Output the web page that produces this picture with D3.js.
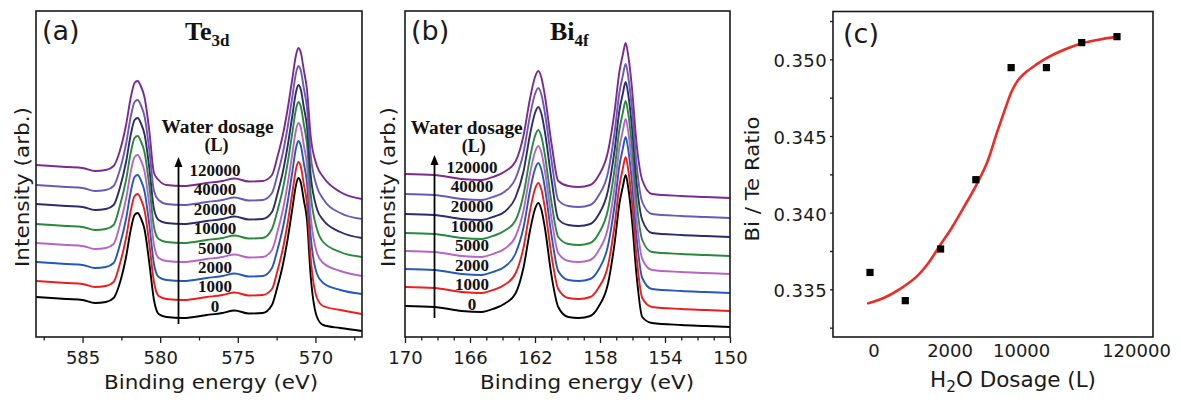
<!DOCTYPE html>
<html><head><meta charset="utf-8">
<script src="https://cdn.jsdelivr.net/npm/d3@7"></script>
<style>body{margin:0;background:#fff} svg{display:block}</style>
</head><body><svg id="chart" width="1181" height="403"></svg>
<script>
// ---------------- data ----------------
const dosageLabels = ["0","1000","2000","5000","10000","20000","40000","120000"];
const seriesColors = ["#000000","#ee1d1d","#2558b8","#b566c2","#28883b","#2c2c6c","#6a59b6","#7b2a8e"];

// Te 3d spectra (binding energy, eV) — intensity in arbitrary units
const teEnergy = [588,587,586,585,584.2,583.5,583.0,582.6,582.2,581.9,581.65,581.45,581.25,581.0,580.7,580.4,580.1,579.6,578.5,577,576,575.2,574.3,573.4,572.8,572.45,572.1,571.8,571.5,571.25,571.1,570.95,570.75,570.55,570.3,569.9,569.5,568.4,567];
const te0 = [40,39,38,37,34,35,39,54,80,107,122,124,119,107,74,37,23,20,19,22,24,26.5,23.5,24,32,50,72,97,127,152,159,155,137,118,60,20,12,9,6];
const te1 = [56,55,54,53,50,51,55,73,99,126,141,143,138,126,93,55,41,38,37,40,42,44.5,41.5,42,48,66,88,113,143,168,175,171,153,134,78,39,31,27,23];
const te2 = [75,74,73,72,69,70,74,92,118,145,160,162,157,145,112,73,60,57,56,59,61,63.5,60.5,61,69,87,109,134,164,189,196,192,174,155,100,63,54,47,43];
const te3 = [94,93,92,91,88,89,93,112,138,165,180,182,177,165,132,92,79,76,75,78,80,82.5,79.5,80,87,105,127,152,182,207,214,210,192,173,120,84,74,66,61];
const te4 = [113,112,111,110,107,108,112,131,157,184,199,201,196,184,151,110,98,95,94,97,99,101.5,98.5,99,108,126,148,173,203,228,235,231,213,194,142,108,95,85,80];
const te5 = [133,132,131,130,127,128,132,149,175,202,217,219,214,202,169,128,117,114,113,116,118,120.5,117.5,118,125,143,165,190,220,245,252,248,230,211,161,128,117,105,99];
const te6 = [152,151,150,149,146,147,151,167,193,220,235,237,232,220,187,146,137,133,132,135,137,139.5,136.5,137,144,162,184,209,239,264,271,267,249,230,181,150,138,124,118];
const te7 = [172,171,170,169,166,167,171,186,212,239,254,256,251,239,206,164,157,152,151,154,156,158.5,155.5,156,162,180,202,227,257,282,289,285,267,248,200,171,160,145,138];
const teSeries = [te0,te1,te2,te3,te4,te5,te6,te7];

// Bi 4f spectra
const biEnergy = [170,168.2,166.5,165.3,164.5,163.85,163.2,162.7,162.3,162.0,161.8,161.6,161.4,160.97,160.57,159.95,159.3,158.6,158.1,157.5,157.1,156.8,156.6,156.42,156.25,156.05,155.74,155.4,154.8,153,151.5,150];
const bi0 = [31,30,26,25,28.5,33.5,43.5,70,107,128,134,127,110,60,30,20,19,21,30,54,94,134,150,162,148,120,60,20,14,12,11,10];
const bi1 = [50,49,45,44,47.5,52.5,63.5,90,127,148,154,147,130,80,48,39,38,40,49,72,112,152,168,180,166,138,78,39,30,28,27,26];
const bi2 = [68,67,63,62,65.5,70.5,83.5,110,147,168,174,167,150,100,66,57,56,58,67,92,132,172,188,200,186,158,98,59,48,46,45,44];
const bi3 = [86,85,81,80,83.5,88.5,100.5,127,164,185,191,184,167,117,84,76,75,77,86,110,150,190,206,218,204,176,116,78,67,65,64,63];
const bi4 = [104,103,99,98,101.5,106.5,116.5,143,180,201,207,200,183,133,100,93,92,94,103,128,168,208,224,236,222,194,134,97,85,83,82,81];
const bi5 = [123,122,118,117,120.5,125.5,139.5,166,203,224,230,223,206,156,118,112,111,113,122,147,187,227,243,255,241,213,153,117,104,102,101,100];
const bi6 = [143,142,138,137,140.5,145.5,158.5,185,222,243,249,242,225,175,137,131,130,132,141,165,205,245,261,273,259,231,171,135,123,121,120,119];
const bi7 = [163,162,158,157,160.5,165.5,175.5,202,239,260,266,259,242,192,156,151,150,152,161,186,226,266,282,294,280,252,192,157,143,141,140,139];
const biSeries = [bi0,bi1,bi2,bi3,bi4,bi5,bi6,bi7];

// Bi/Te ratio vs H2O dosage (categorical position index)
const ratioIndex = [0,1,2,3,4,5,6,7];
const ratioValues = [0.3361,0.33426,0.33763,0.34215,0.34946,0.34946,0.35109,0.35148];
const fitIndex = [-0.05,0.4,0.8,1.32,1.65,1.99,2.31,2.64,2.99,3.31,3.59,3.82,4.01,4.20,4.44,4.72,4.99,5.48,5.99,6.52,6.89];
const fitValues = [0.33409,0.33445,0.33495,0.33583,0.3367,0.33789,0.33898,0.34028,0.3417,0.34322,0.34517,0.3467,0.34789,0.34865,0.3492,0.34967,0.35007,0.35061,0.35104,0.3513,0.35143];
const ratioTickIndex = [0,2,4,7];
const ratioTickLabels = ["0","2000","10000","120000"];

const teMajorTicks = [585,580,575,570];
const teMinorTicks = [587.5,582.5,577.5,572.5,567.5];
const biMajorTicks = [170,166,162,158,154,150];
const biMinorTicks = [169,168,167,165,164,163,161,160,159,157,156,155,153,152,151];
const ratioMajorTicks = [0.335,0.340,0.345,0.350];
const ratioMinorTicks = [0.3325,0.3375,0.3425,0.3475,0.3525];

// ---------------- drawing ----------------
const SANS = "'DejaVu Sans', Verdana, sans-serif";
const SERIF = "'Liberation Serif', 'Times New Roman', serif";
const svg = d3.select("#chart");
const FT = 11, FB = 337;

function frame(x0, x1, y0, y1) {
  svg.append("rect").attr("x", x0).attr("y", y0).attr("width", x1 - x0).attr("height", y1 - y0)
    .attr("fill", "none").attr("stroke", "#1a1a1a").attr("stroke-width", 1.6);
}

function bottomTicks(x, majors, minors, labelY) {
  const g = svg.append("g").attr("transform", `translate(0,${FB})`);
  g.call(d3.axisBottom(x).tickValues(minors).tickSize(3.5).tickSizeOuter(0).tickFormat(""));
  const g2 = svg.append("g").attr("transform", `translate(0,${FB})`);
  g2.call(d3.axisBottom(x).tickValues(majors).tickSize(6).tickSizeOuter(0).tickPadding(labelY));
  [g, g2].forEach(a => {
    a.select(".domain").remove();
    a.selectAll("line").attr("stroke", "#1a1a1a").attr("stroke-width", 1.3);
  });
  g2.selectAll("text").attr("font-family", SANS).attr("font-size", 18).attr("fill", "#1a1a1a");
}

function spectrumPanel(opt) {
  const x = d3.scaleLinear().domain(opt.xDomain).range([opt.x0, opt.x1]);
  const y = d3.scaleLinear().domain([0, 326]).range([FB, FT]);
  const line = d3.line().x((d, i) => x(opt.energy[i])).y(d => y(d)).curve(d3.curveMonotoneX);
  const clip = "clip" + opt.id;
  svg.append("clipPath").attr("id", clip).append("rect")
    .attr("x", opt.x0).attr("y", FT).attr("width", opt.x1 - opt.x0).attr("height", FB - FT);
  svg.append("g").attr("clip-path", `url(#${clip})`)
    .selectAll("path").data(opt.series).join("path")
    .attr("d", d => line(d)).attr("fill", "none")
    .attr("stroke", (d, i) => seriesColors[i]).attr("stroke-width", 1.9)
    .attr("stroke-linejoin", "round");
  frame(opt.x0, opt.x1, FT, FB);
  bottomTicks(x, opt.majors, opt.minors, 8);

  svg.append("text").attr("x", opt.xTitleX).attr("y", 389).attr("text-anchor", "middle")
    .attr("font-family", SANS).attr("font-size", 20).attr("fill", "#1a1a1a")
    .attr("textLength", 214).attr("lengthAdjust", "spacingAndGlyphs")
    .text("Binding energy (eV)");
  svg.append("text").attr("transform", `translate(${opt.yTitleX},187) rotate(-90)`)
    .attr("text-anchor", "middle").attr("font-family", SANS).attr("font-size", 20).attr("fill", "#1a1a1a")
    .attr("textLength", 160).attr("lengthAdjust", "spacingAndGlyphs")
    .text("Intensity (arb.)");
  svg.append("text").attr("x", opt.x0 + 6).attr("y", 40).attr("font-family", SANS)
    .attr("font-size", 27).attr("fill", "#1a1a1a").text(opt.letter);
  const t = svg.append("text").attr("x", opt.titleX).attr("y", 40)
    .attr("font-family", SERIF).attr("font-weight", "bold").attr("font-size", 26).attr("fill", "#111");
  t.append("tspan").text(opt.title[0]);
  t.append("tspan").attr("font-size", 17).attr("dy", 6).text(opt.title[1]);

  svg.append("text").attr("x", opt.legendX).attr("y", opt.wdY).attr("text-anchor", "middle")
    .attr("font-family", SERIF).attr("font-weight", "bold").attr("font-size", 18).attr("fill", "#111")
    .attr("textLength", 112).attr("lengthAdjust", "spacingAndGlyphs").text("Water dosage");
  svg.append("text").attr("x", opt.legendX + opt.lOff).attr("y", opt.wdY + 18).attr("text-anchor", "middle")
    .attr("font-family", SERIF).attr("font-weight", "bold").attr("font-size", 18).attr("fill", "#111").text("(L)");
  svg.append("g").selectAll("text").data(dosageLabels).join("text")
    .attr("x", opt.numX).attr("y", (d, i) => opt.numY0 - i * opt.numStep)
    .attr("text-anchor", "middle").attr("font-family", SERIF).attr("font-weight", "bold")
    .attr("font-size", 17).attr("fill", "#111").text(d => d);
  svg.append("line").attr("x1", opt.arrowX).attr("x2", opt.arrowX).attr("y1", opt.arrowBottom).attr("y2", opt.arrowTop + 7)
    .attr("stroke", "#000").attr("stroke-width", 1.8);
  svg.append("path").attr("d", `M${opt.arrowX},${opt.arrowTop} L${opt.arrowX - 4},${opt.arrowTop + 10} L${opt.arrowX + 4},${opt.arrowTop + 10} Z`)
    .attr("fill", "#000");
}

spectrumPanel({
  id: "a", energy: teEnergy, series: teSeries, xDomain: [588, 567], x0: 36, x1: 362,
  majors: teMajorTicks, minors: teMinorTicks, xTitleX: 211, yTitleX: 28.5, letter: "(a)",
  titleX: 185, title: ["Te", "3d"], legendX: 217.5, lOff: -1, wdY: 133,
  numX: 215, numY0: 311.8, numStep: 19.4, arrowX: 178.5, arrowTop: 157, arrowBottom: 324
});
spectrumPanel({
  id: "b", energy: biEnergy, series: biSeries, xDomain: [170, 150], x0: 405, x1: 730,
  majors: biMajorTicks, minors: biMinorTicks, xTitleX: 587, yTitleX: 395, letter: "(b)",
  titleX: 550, title: ["Bi", "4f"], legendX: 466.7, lOff: 7, wdY: 133.5,
  numX: 472, numY0: 310, numStep: 19.6, arrowX: 434.5, arrowTop: 155, arrowBottom: 318
});

// ---------------- panel (c) ----------------
const cx0 = 833, cx1 = 1153, cy0 = 11.5;
const xr = d3.scaleLinear().domain([0, 7]).range([870, 1117]);
const yr = d3.scaleLinear().domain([0.33189, 0.35312]).range([FB, cy0]);

const fitLine = d3.line().x((d, i) => xr(fitIndex[i])).y(d => yr(d)).curve(d3.curveCatmullRom.alpha(0.5));
svg.append("path").attr("d", fitLine(fitValues)).attr("fill", "none")
  .attr("stroke", "#ee2a24").attr("stroke-width", 2.6).attr("stroke-linecap", "round");

svg.append("g").selectAll("rect").data(ratioValues).join("rect")
  .attr("x", (d, i) => xr(ratioIndex[i]) - 3.6).attr("y", d => yr(d) - 3.6)
  .attr("width", 7.2).attr("height", 7.2).attr("fill", "#000");

svg.append("rect").attr("x", cx0).attr("y", cy0).attr("width", cx1 - cx0).attr("height", FB - cy0)
  .attr("fill", "none").attr("stroke", "#1a1a1a").attr("stroke-width", 1.6);

const yMinor = svg.append("g").attr("transform", `translate(${cx0},0)`)
  .call(d3.axisLeft(yr).tickValues(ratioMinorTicks).tickSize(3).tickFormat(""));
const yMajor = svg.append("g").attr("transform", `translate(${cx0},0)`)
  .call(d3.axisLeft(yr).tickValues(ratioMajorTicks).tickSize(3).tickPadding(3).tickFormat(d3.format(".3f")));
[yMinor, yMajor].forEach(a => {
  a.select(".domain").remove();
  a.selectAll("line").attr("stroke", "#1a1a1a").attr("stroke-width", 1.3);
});
yMajor.selectAll("text").attr("font-family", SANS).attr("font-size", 18).attr("fill", "#1a1a1a")
  .attr("dy", "0.42em").attr("letter-spacing", 0.4);

const xLabelNudge = [4, 9.5, 10.5, 19.5];
svg.append("g").selectAll("text").data(ratioTickLabels).join("text")
  .attr("x", (d, i) => xr(ratioTickIndex[i]) + xLabelNudge[i]).attr("y", 357)
  .attr("text-anchor", "middle").attr("font-family", SANS).attr("font-size", 18).attr("fill", "#1a1a1a")
  .text(d => d);

const xt = svg.append("text").attr("x", 1013).attr("y", 387).attr("text-anchor", "middle")
  .attr("font-family", SANS).attr("font-size", 21).attr("fill", "#1a1a1a")
  .attr("textLength", 166).attr("lengthAdjust", "spacingAndGlyphs");
xt.append("tspan").text("H");
xt.append("tspan").attr("font-size", 15).attr("dy", 5).text("2");
xt.append("tspan").attr("dy", -5).text("O Dosage (L)");

svg.append("text").attr("transform", "translate(759,179) rotate(-90)").attr("text-anchor", "middle")
  .attr("font-family", SANS).attr("font-size", 20).attr("fill", "#1a1a1a")
  .attr("textLength", 125).attr("lengthAdjust", "spacingAndGlyphs").text("Bi / Te Ratio");

svg.append("text").attr("x", 843).attr("y", 43).attr("font-family", SANS)
  .attr("font-size", 27).attr("fill", "#1a1a1a").text("(c)");
</script></body></html>
